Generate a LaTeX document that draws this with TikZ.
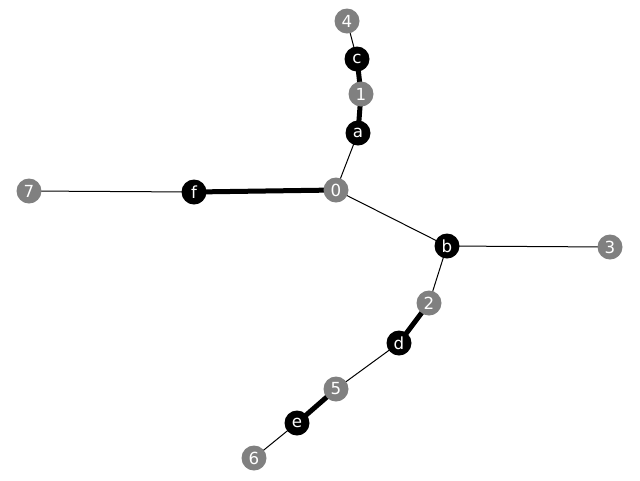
\documentclass[tikz,border=0pt]{standalone}
\usepackage{fontspec}
\setmainfont{DejaVu Sans}
\usetikzlibrary{backgrounds}
\definecolor{nodegray}{RGB}{128,128,128}
\begin{document}
\begin{tikzpicture}[x=0.75pt,y=-0.75pt,
  vnode/.style={circle,fill=nodegray,minimum size=25*0.75pt,inner sep=0pt,text=white,font=\fontsize{12.5}{14}\selectfont},
  enode/.style={vnode,fill=black},
  thin edge/.style={line width=0.75pt},
  thick edge/.style={line width=3.75pt}]
\useasboundingbox (0,0) rectangle (640,480);
\node[vnode] (n4) at (347,21) {4};
\node[enode] (c) at (357,59) {c};
\node[vnode] (n1) at (361,94) {1};
\node[enode] (a) at (358,133) {a};
\node[vnode] (n0) at (336,190) {0};
\node[vnode] (n7) at (29,191) {7};
\node[enode] (f) at (194,192) {f};
\node[enode] (b) at (447,246) {b};
\node[vnode] (n3) at (610,247) {3};
\node[vnode] (n2) at (429,303) {2};
\node[enode] (d) at (399,343) {d};
\node[vnode] (n5) at (336,389) {5};
\node[enode] (e) at (297,423) {e};
\node[vnode] (n6) at (254,458) {6};
\begin{scope}[on background layer]
\draw[thin edge] (n4.center) -- (c.center);
\draw[thick edge] (c.center) -- (n1.center);
\draw[thick edge] (n1.center) -- (a.center);
\draw[thin edge] (a.center) -- (n0.center);
\draw[thick edge] (n0.center) -- (f.center);
\draw[thin edge] (f.center) -- (n7.center);
\draw[thin edge] (n0.center) -- (b.center);
\draw[thin edge] (b.center) -- (n3.center);
\draw[thin edge] (b.center) -- (n2.center);
\draw[thick edge] (n2.center) -- (d.center);
\draw[thin edge] (d.center) -- (n5.center);
\draw[thick edge] (n5.center) -- (e.center);
\draw[thin edge] (e.center) -- (n6.center);
\end{scope}
\end{tikzpicture}
\end{document}
